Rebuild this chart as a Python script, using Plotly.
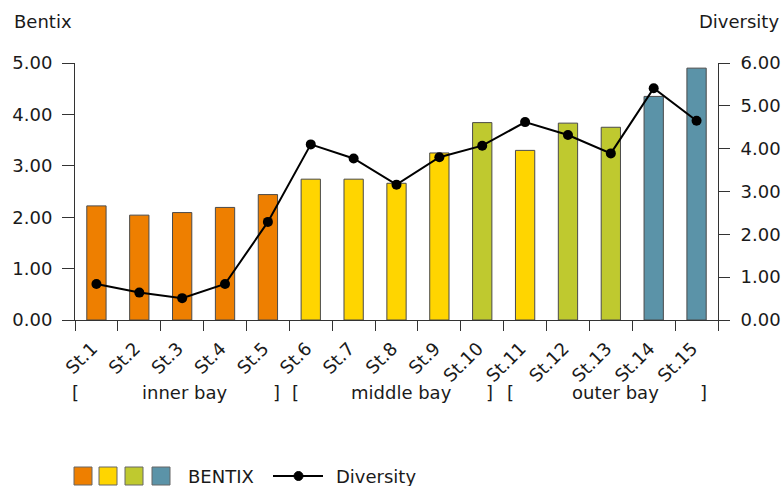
import plotly.graph_objects as go

# Station data
stations = [f"St.{i}" for i in range(1, 16)]
bentix = [2.22, 2.04, 2.09, 2.19, 2.44, 2.74, 2.74, 2.66, 3.25, 3.84,
          3.30, 3.83, 3.75, 4.35, 4.90]
diversity = [0.84, 0.64, 0.51, 0.84, 2.29, 4.10, 3.77, 3.16, 3.80, 4.07,
             4.62, 4.32, 3.89, 5.41, 4.65]
# BENTIX ecological class of each station (index into class_colors)
bentix_class = [0, 0, 0, 0, 0, 1, 1, 1, 1, 2, 1, 2, 2, 3, 3]
class_colors = ["#EE7F00", "#FFD500", "#BFC92F", "#5B93A8"]

bay_groups = ["inner bay", "middle bay", "outer bay"]
left_ticks = [0, 1, 2, 3, 4, 5]
right_ticks = [0, 1, 2, 3, 4, 5, 6]

FONT = "DejaVu Sans"
FS = 18
W, H = 784, 486
L, R, T, B = 75, 66, 63, 166
PW, PH = W - L - R, H - T - B


def px(x):
    return (x - L) / PW


def py(y):
    return (H - B - y) / PH


xs = list(range(1, len(stations) + 1))

fig = go.Figure()
fig.add_trace(go.Bar(
    x=xs, y=bentix, width=0.45,
    marker=dict(color=[class_colors[c] for c in bentix_class],
                line=dict(color="#4a4a4a", width=1)),
    name="BENTIX", showlegend=False,
))
fig.add_trace(go.Scatter(
    x=xs, y=diversity, yaxis="y2", mode="lines+markers",
    line=dict(color="black", width=2),
    marker=dict(color="black", size=10),
    name="Diversity", showlegend=False,
))

fig.update_layout(
    width=W, height=H,
    margin=dict(l=L, r=R, t=T, b=B),
    paper_bgcolor="white", plot_bgcolor="white",
    font=dict(family=FONT, size=FS, color="#1a1a1a"),
    xaxis=dict(
        range=[0.5, len(stations) + 0.5], automargin=False,
        tickvals=[x - 0.1 for x in xs], ticktext=stations,
        tickangle=-45, ticks="outside", ticklen=10,
        tickcolor="rgba(0,0,0,0)",
        minor=dict(tickvals=[x - 0.5 for x in xs] + [len(xs) + 0.5],
                   ticks="outside", ticklen=10, tickcolor="#333", tickwidth=1),
        showline=True, linecolor="#333", linewidth=1,
        showgrid=False, zeroline=False,
        tickfont=dict(size=FS, color="#1a1a1a"),
    ),
    yaxis=dict(
        range=[0, 5], tickvals=left_ticks, tickformat=".2f", automargin=False,
        ticks="outside", ticklen=12, tickcolor="#333",
        ticklabelstandoff=6,
        showline=True, linecolor="#333", linewidth=1,
        showgrid=False, zeroline=False,
        tickfont=dict(size=FS, color="#1a1a1a"),
    ),
    yaxis2=dict(
        range=[0, 6], tickvals=right_ticks, tickformat=".2f", automargin=False,
        overlaying="y", side="right",
        ticks="outside", ticklen=11, tickcolor="#333",
        ticklabelstandoff=7,
        showline=True, linecolor="#333", linewidth=1,
        showgrid=False, zeroline=False,
        tickfont=dict(size=FS, color="#1a1a1a"),
    ),
)

ann = []
# axis titles
ann.append(dict(text="Bentix", x=px(12), y=py(22), xref="paper", yref="paper",
                xanchor="left", yanchor="middle", showarrow=False))
ann.append(dict(text="Diversity", x=px(781), y=py(22), xref="paper", yref="paper",
                xanchor="right", yanchor="middle", showarrow=False))

# bay group brackets beneath the station labels
bracket_y = py(393)
group_spans = [(0.52, 5.19), (5.65, 10.16), (10.65, 15.17)]
for name, (a, b) in zip(bay_groups, group_spans):
    for txt, xx in (("[", a), ("]", b), (name, (a + b) / 2 + 0.2)):
        ann.append(dict(text=txt, x=xx, y=bracket_y, xref="x", yref="paper",
                        xanchor="center", yanchor="middle", showarrow=False))

# legend: colour swatches for the BENTIX classes, then the diversity line
shapes = []
sw_left = [74, 99, 125, 152]
for x0, col in zip(sw_left, class_colors):
    shapes.append(dict(type="rect", xref="paper", yref="paper",
                       x0=px(x0), x1=px(x0 + 18), y0=py(485), y1=py(467),
                       fillcolor=col, line=dict(color="#666", width=1)))
ann.append(dict(text="BENTIX", x=px(186), y=py(476), xref="paper", yref="paper",
                xanchor="left", yanchor="middle", showarrow=False))
shapes.append(dict(type="line", xref="paper", yref="paper",
                   x0=px(273), x1=px(323), y0=py(476), y1=py(476),
                   line=dict(color="black", width=2)))
shapes.append(dict(type="circle", xref="paper", yref="paper",
                   x0=px(294), x1=px(303), y0=py(480.5), y1=py(471.5),
                   fillcolor="black", line=dict(color="black", width=1)))
ann.append(dict(text="Diversity", x=px(334), y=py(476), xref="paper", yref="paper",
                xanchor="left", yanchor="middle", showarrow=False))

fig.update_layout(annotations=ann, shapes=shapes)
fig.write_html("out.html")
